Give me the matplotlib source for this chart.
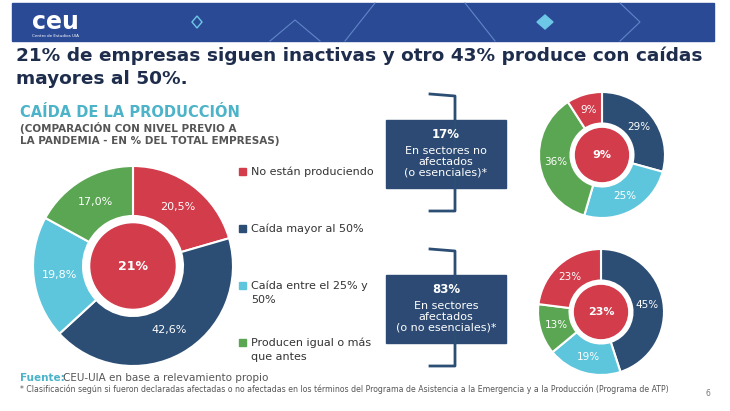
import matplotlib.pyplot as plt
from matplotlib.patches import Rectangle, Circle, Polygon

RED = "#d23c4b"
NAVY = "#2c4e74"
LIGHT = "#5ec6dc"
GREEN = "#5ba652"

# left donut (clockwise from top)
total_labels = ["20,5%", "42,6%", "19,8%", "17,0%"]
total_vals = [20.5, 42.6, 19.8, 17.0]
total_cols = [RED, NAVY, LIGHT, GREEN]
legend_txt = ["No están produciendo", "Caída mayor al 50%",
              "Caída entre el 25% y\n50%", "Producen igual o más\nque antes"]

# right donuts
ess_vals = [29, 25, 36, 9]
ess_cols = [NAVY, LIGHT, GREEN, RED]
afe_vals = [45, 19, 13, 23]
afe_cols = [NAVY, LIGHT, GREEN, RED]

W, H = 730, 411
fig = plt.figure(figsize=(W / 100, H / 100), dpi=100)
bg = fig.add_axes([0, 0, 1, 1])
bg.set_xlim(0, W)
bg.set_ylim(H, 0)
bg.axis("off")

# header band
bg.add_patch(Rectangle((12, 3), 702, 38, color="#2b4a96"))
for xs, ys in [([270, 295, 320], [41, 20, 41]), ([345, 375], [41, 3]), ([465, 495], [3, 41]),
               ([620, 640, 620], [3, 22, 41])]:
    bg.plot(xs, ys, color="#5f86c8", lw=0.8)
bg.add_patch(Polygon([[545, 15], [553, 22], [545, 29], [537, 22]], color="#6cc8e6"))
bg.add_patch(Polygon([[197, 16], [202, 22], [197, 28], [192, 22]], fill=False, ec="#6cc8e6", lw=1))
bg.text(32, 22, "ceu", color="white", fontsize=17, fontweight="bold", va="center")
bg.text(32, 36, "Centro de Estudios UIA", color="white", fontsize=3, va="center")

bg.text(16, 56, "21% de empresas siguen inactivas y otro 43% produce con caídas",
        fontsize=13.3, fontweight="bold", color="#1f2d4d", va="center")
bg.text(16, 79, "mayores al 50%.", fontsize=13.3, fontweight="bold", color="#1f2d4d", va="center")

bg.text(20, 112, "CAÍDA DE LA PRODUCCIÓN", fontsize=10.5, fontweight="bold", color="#4cb3c8", va="center")
bg.text(20, 134, "(COMPARACIÓN CON NIVEL PREVIO A\nLA PANDEMIA - EN % DEL TOTAL EMPRESAS)",
        fontsize=7.5, fontweight="bold", color="#555555", va="center", linespacing=1.2)

# legend
for i, (t, c) in enumerate(zip(legend_txt, total_cols)):
    y = 172 + i * 57
    two = "\n" in t
    bg.add_patch(Rectangle((239, y - 4), 7, 7, color=c))
    bg.text(251, y - 6 if two else y, t, fontsize=8, color="#333333",
            va="top" if two else "center", linespacing=1.6)


def donut(cx, cy, r, vals, cols, labels, center, fs, cfs):
    ax = fig.add_axes([(cx - r) / W, 1 - (cy + r) / H, 2 * r / W, 2 * r / H])
    _, texts = ax.pie(vals, colors=cols, startangle=90, counterclock=False, radius=1,
                      labels=labels, labeldistance=0.74,
                      wedgeprops=dict(width=0.5, edgecolor="white", linewidth=1.5),
                      textprops=dict(color="white", fontsize=fs))
    for t in texts:
        t.set_ha("center")
        t.set_va("center")
    ax.add_patch(Circle((0, 0), 0.42, color=RED))
    ax.text(0, 0, center, color="white", fontsize=cfs, fontweight="bold", ha="center", va="center")
    ax.set_xlim(-1, 1)
    ax.set_ylim(-1, 1)
    ax.set_aspect("equal")


donut(133, 266, 100, total_vals, total_cols, total_labels, "21%", 8, 9)
donut(602, 155, 63, ess_vals, ess_cols, [f"{v}%" for v in ess_vals], "9%", 7.5, 8)
donut(601, 312, 63, afe_vals, afe_cols, [f"{v}%" for v in afe_vals], "23%", 7.5, 8)

# brackets and boxes
for y0, y1 in [(94, 211), (249, 366)]:
    bg.plot([430, 455, 455, 430], [y0, y0 + 2, y1, y1], color="#2c4e74", lw=2)
boxes = [(120, "17%", "En sectores no\nafectados\n(o esenciales)*"),
         (275, "83%", "En sectores\nafectados\n(o no esenciales)*")]
for y, big, txt in boxes:
    bg.add_patch(Rectangle((386, y), 120, 68, color="#2c4a73"))
    bg.text(446, y + 14, big, color="white", fontsize=8.5, fontweight="bold", ha="center", va="center")
    bg.text(446, y + 42, txt, color="white", fontsize=8, ha="center", va="center", linespacing=1.1)

bg.text(20, 378, "Fuente:", fontsize=7.5, fontweight="bold", color="#4cb3c8", va="center")
bg.text(63, 378, "CEU-UIA en base a relevamiento propio", fontsize=7.5, color="#555555", va="center")
bg.text(20, 389, "* Clasificación según si fueron declaradas afectadas o no afectadas en los términos del "
        "Programa de Asistencia a la Emergencia y a la Producción (Programa de ATP)",
        fontsize=5.6, color="#555555", va="center")
bg.text(706, 393, "6", fontsize=5.5, color="#777777", va="center")

fig.savefig("out.png", dpi=100)
